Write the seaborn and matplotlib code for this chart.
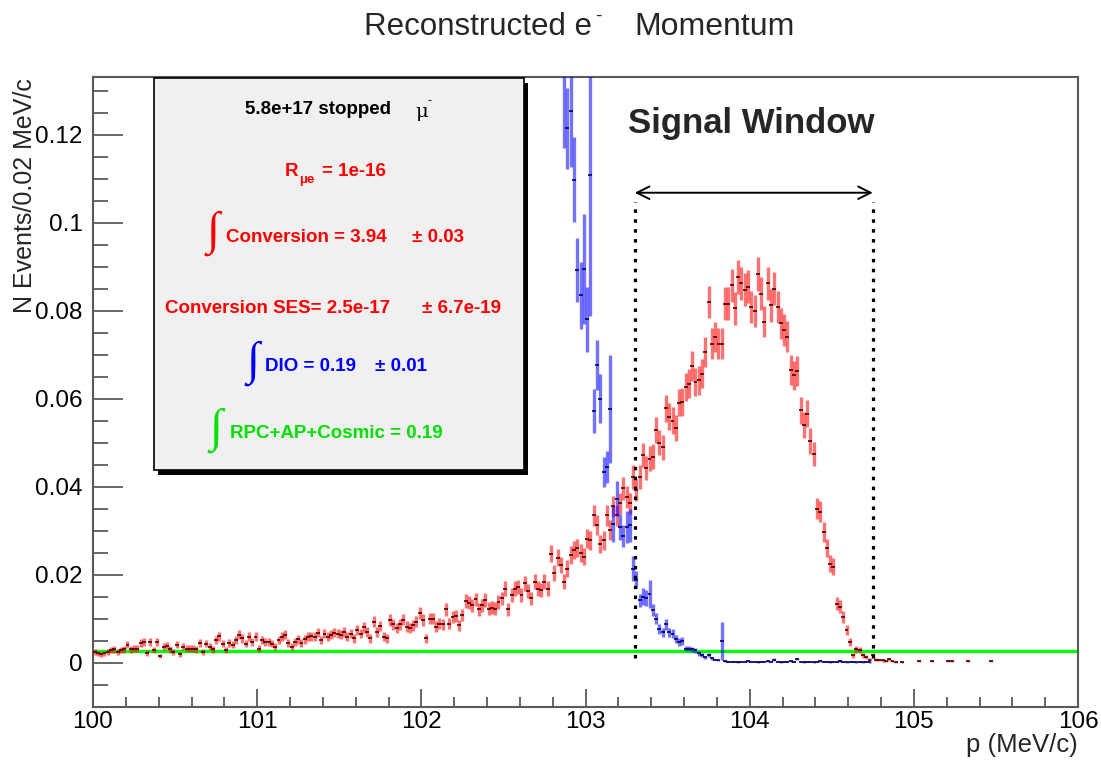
import numpy as np
import matplotlib
matplotlib.use('Agg')
import matplotlib.pyplot as plt
from matplotlib.patches import Rectangle
from matplotlib.ticker import MultipleLocator, FuncFormatter
import seaborn as sns

# ---- data (N events / 0.02 MeV/c) ----
bin_width = 0.02
p_lo, p_hi = 100.0, 106.0

# Conversion electrons, first bin centre 100.01, None = empty bin
conv_start = 100.01
conv_vals = [
    0.0025, 0.0021, 0.0019, 0.0021, 0.0025, 0.0028, 0.0030, 0.0025, 0.0028, 0.0030,
    0.0041, 0.0030, 0.0032, 0.0032, 0.0045, 0.0047, 0.0022, 0.0047, 0.0028, 0.0047,
    0.0015, 0.0036, 0.0038, 0.0030, 0.0025, 0.0041, 0.0019, 0.0036, 0.0032, 0.0032,
    0.0032, 0.0030, 0.0045, 0.0025, 0.0043, 0.0036, 0.0030, 0.0051, 0.0060, 0.0043,
    0.0028, 0.0045, 0.0041, 0.0051, 0.0063, 0.0055, 0.0043, 0.0059, 0.0047, 0.0059,
    0.0032, 0.0051, 0.0047, 0.0047, 0.0043, 0.0036, 0.0051, 0.0059, 0.0063, 0.0045,
    0.0036, 0.0047, 0.0053, 0.0045, 0.0053, 0.0059, 0.0060, 0.0059, 0.0068, 0.0051,
    0.0066, 0.0059, 0.0063, 0.0068, 0.0066, 0.0063, 0.0070, 0.0059, 0.0066, 0.0055,
    0.0074, 0.0066, 0.0080, 0.0070, 0.0055, 0.0093, 0.0070, 0.0083, 0.0059, 0.0055,
    0.0097, 0.0087, 0.0078, 0.0087, 0.0098, 0.0082, 0.0078, 0.0085, 0.0093, 0.0112,
    0.0097, 0.0055, 0.0100, 0.0100, 0.0082, 0.0089, 0.0087, 0.0121, 0.0089, 0.0104,
    0.0106, 0.0085, 0.0108, 0.0140, 0.0136, 0.0131, 0.0144, 0.0121, 0.0131, 0.0142,
    0.0123, 0.0125, 0.0123, 0.0138, 0.0146, 0.0168, 0.0121, 0.0153, 0.0168, 0.0172,
    0.0153, 0.0180, 0.0163, 0.0146, 0.0184, 0.0168, 0.0165, 0.0184, 0.0168, 0.0248,
    0.0204, 0.0239, 0.0222, 0.0184, 0.0214, 0.0245, 0.0256, 0.0260, 0.0250, 0.0241,
    0.0282, 0.0278, 0.0335, 0.0313, 0.0270, 0.0278, 0.0335, 0.0301, 0.0355, 0.0335,
    0.0362, 0.0396, 0.0377, 0.0362, 0.0422, 0.0392, 0.0422, 0.0472, 0.0442, 0.0464,
    0.0468, 0.0529, 0.0500, 0.0490, 0.0578, 0.0559, 0.0550, 0.0534, 0.0591, 0.0593,
    0.0627, 0.0634, 0.0674, 0.0638, 0.0642, 0.0657, 0.0706, 0.0820, 0.0725, 0.0740,
    0.0725, 0.0725, 0.0816, 0.0816, 0.0858, 0.0805, 0.0877, 0.0862, 0.0847, 0.0854,
    0.0809, 0.0800, 0.0884, 0.0839, 0.0775, 0.0862, 0.0812, 0.0850, 0.0809, 0.0771,
    0.0756, 0.0741, 0.0665, 0.0653, 0.0663, 0.0574, 0.0540, 0.0566, 0.0504, 0.0474,
    0.0350, 0.0343, 0.0297, 0.0261, 0.0225, 0.0218, 0.0134, 0.0127, 0.0104, 0.0074,
    0.0048, 0.0017, 0.0030, 0.0028, 0.0017, 0.0012, 0.0007, 0.0017, 0.0007, 0.0006,
    0.0005, 0.0004, 0.0008, 0.0004, 0.0002, None, 0.0002, None, None, None,
    None, 0.0004, None, None, None, 0.0004, None, None, None, None,
    0.0003, 0.0003, None, None, None, None, 0.0003, None, None, None,
    None, None, None, 0.0003,
]
conv_weight = 0.000166   # weight of one event -> error = sqrt(N) * w

# DIO electrons, first visible bin centre 102.87
dio_start = 102.87
dio_vals = [
    0.1380, 0.1214, 0.1254, 0.1098, 0.0892, 0.0835, 0.0894, 0.0780, 0.1108, 0.0572,
    0.0676, 0.0600, 0.0434, 0.0445, 0.0576, 0.0315, 0.0373, 0.0308, 0.0288, 0.0308,
    0.0312, 0.0214, 0.0189, 0.0142, 0.0150, 0.0147, 0.0157, 0.0120, 0.0100, 0.0076,
    0.0069, 0.0087, 0.0069, 0.0066, 0.0053, 0.0047, 0.0049, 0.0032, 0.0032, 0.0030,
    0.0028, 0.0021, 0.0018, 0.0012, 0.0017, 0.0010, 0.0007, 0.0005, 0.0049, 0.0003,
    0.0002, 0.0002, 0.0002, 0.0001, 0.0002, 0.0002, 0.0003, 0.0002, 0.0002, 0.0001,
    0.0002, 0.0002, 0.0003, 0.0002, 0.0007, 0.0002, 0.0001, 0.0002, 0.0002, 0.0003,
    0.0002, 0.0008, 0.0002, 0.0001, 0.0002, 0.0002, 0.0001, 0.0002, 0.0003, 0.0002,
    0.0002, 0.0001, 0.0002, 0.0002, 0.0003, 0.0002, 0.0001, 0.0002, 0.0002, 0.0001,
    0.0002, 0.0001, 0.0002, 0.0001,
]
dio_errs = [
    0.0210, 0.0093, 0.0127, 0.0097, 0.0073, 0.0076, 0.0125, 0.0074, 0.0320, 0.0051,
    0.0057, 0.0055, 0.0034, 0.0036, 0.0123, 0.0040, 0.0040, 0.0030, 0.0025, 0.0036,
    0.0038, 0.0028, 0.0019, 0.0015, 0.0019, 0.0018, 0.0032, 0.0014, 0.0012, 0.0011,
    0.0010, 0.0013, 0.0010, 0.0010, 0.0009, 0.0008, 0.0009, 0.0006, 0.0006, 0.0005,
    0.0005, 0.0006, 0.0004, 0.0003, 0.0004, 0.0003, 0.0002, 0.0002, 0.0043, 0.0002,
    0.0001, 0.0001, 0.0001, 0.0001, 0.0001, 0.0001, 0.0002, 0.0001, 0.0001, 0.0001,
    0.0001, 0.0001, 0.0002, 0.0001, 0.0003, 0.0001, 0.0001, 0.0001, 0.0001, 0.0002,
    0.0001, 0.0003, 0.0001, 0.0001, 0.0001, 0.0001, 0.0001, 0.0001, 0.0002, 0.0001,
    0.0001, 0.0001, 0.0001, 0.0001, 0.0002, 0.0001, 0.0001, 0.0001, 0.0001, 0.0001,
    0.0001, 0.0001, 0.0001, 0.0001,
]

# RPC + AP + Cosmic background, flat
rpc_edges = [p_lo, p_hi]
rpc_level = 0.0027

window_lo, window_hi = 103.3, 104.75
window_top = 0.1068

# ---- style ----
sns.set_style('white')
plt.rcParams['font.family'] = ['Liberation Sans', 'DejaVu Sans']

W, H = 1101, 762
fig = plt.figure(figsize=(W / 100, H / 100), dpi=100)
ax = fig.add_axes([93 / W, 1 - 706.7 / H, 985 / W, 629.7 / H])

def fx(x):
    return x / W

def fy(y):
    return 1 - y / H

# RPC line (under the points)
sns.lineplot(x=rpc_edges, y=[rpc_level, rpc_level], color='#00ff00', lw=2.4, ax=ax, zorder=2)

# conversion histogram
cv = np.array(conv_vals, dtype=float)
cx = conv_start + bin_width * np.arange(len(cv))
ce = np.sqrt(cv * conv_weight)
ax.errorbar(cx, cv, yerr=ce, fmt='none', ecolor=(1, 0, 0, 0.55), elinewidth=2.4, zorder=3)
ax.errorbar(cx, cv, xerr=bin_width * 0.6, fmt='none', ecolor=(0.3, 0, 0), elinewidth=1.2, zorder=3.5)

# DIO histogram
dv = np.array(dio_vals, dtype=float)
dx = dio_start + bin_width * np.arange(len(dv))
ax.errorbar(dx, dv, yerr=dio_errs, fmt='none', ecolor=(0, 0, 1, 0.55), elinewidth=2.4, zorder=4)
ax.errorbar(dx, dv, xerr=bin_width * 0.6, fmt='none', ecolor=(0, 0, 0.4), elinewidth=1.2, zorder=4.5)

# signal window
ax.vlines([window_lo, window_hi], 0.001, window_top - 0.002, colors='black',
          linestyles=[(0, (1.1, 2.0))], lw=2.3, zorder=6)
ax.annotate('', xy=(window_hi, window_top), xytext=(window_lo, window_top),
            arrowprops=dict(arrowstyle='<->,head_length=0.6,head_width=0.3', lw=1.4,
                            color='black', shrinkA=0, shrinkB=0, mutation_scale=15), zorder=6)

# axes
ax.set_xlim(p_lo, p_hi)
ax.set_ylim(-0.01, 0.1331)
ax.set_xlabel('')
ax.set_ylabel('')
ax.xaxis.set_major_locator(MultipleLocator(1))
ax.xaxis.set_minor_locator(MultipleLocator(0.2))
ax.yaxis.set_major_locator(MultipleLocator(0.02))
ax.yaxis.set_minor_locator(MultipleLocator(0.005))
ax.yaxis.set_major_formatter(FuncFormatter(lambda v, _: '0' if abs(v) < 1e-9 else '%g' % round(v, 3)))
ax.xaxis.set_major_formatter(FuncFormatter(lambda v, _: '%d' % round(v)))
gray = '#5a5a5a'
# seaborn's white style hides the ticks, turn them back on (ROOT style: inward)
ax.tick_params(which='both', bottom=True, left=True, top=False, right=False,
               direction='in', color=gray, width=1.3, labelsize=17.5, labelcolor='black')
ax.tick_params(axis='x', which='major', length=13, pad=3)
ax.tick_params(axis='x', which='minor', length=7)
ax.tick_params(axis='y', which='major', length=21.6, pad=7.5)
ax.tick_params(axis='y', which='minor', length=10.8)
for s in ax.spines.values():
    s.set_color(gray)
    s.set_linewidth(1.5)

# title and axis titles
fig.text(fx(364), fy(27), 'Reconstructed e', ha='left', va='center', fontsize=22.5)
fig.text(fx(598), fy(16), '-', ha='center', va='center', fontsize=14)
fig.text(fx(634), fy(27), 'Momentum', ha='left', va='center', fontsize=23)
fig.text(fx(25), fy(78), 'N Events/0.02 MeV/c', rotation=90, ha='center', va='top', fontsize=18)
fig.text(fx(1078), fy(745), 'p (MeV/c)', ha='right', va='center', fontsize=18.5)
fig.text(fx(628), fy(123), 'Signal Window', ha='left', va='center', fontsize=25, fontweight='bold')

# stats box with shadow
bx0, by0, bx1, by1 = 154, 78, 524, 470
fig.add_artist(Rectangle((fx(bx0 + 4), fy(by1 + 5)), (bx1 - bx0) / W, (by1 - by0) / H,
                         transform=fig.transFigure, fc='black', ec='none', zorder=1))
fig.add_artist(Rectangle((fx(bx0), fy(by1)), (bx1 - bx0) / W, (by1 - by0) / H,
                         transform=fig.transFigure, fc='#f0f0f0', ec='black', lw=1.2, zorder=1.5))

red, blue, green = '#ff0000', '#0000ff', '#00e000'
bold = dict(fontsize=13.5, fontweight='bold', va='center', ha='left', zorder=3)
fig.text(fx(245), fy(110), '5.8e+17 stopped', color='black', **bold)
fig.text(fx(415), fy(112), 'μ', color='black', fontsize=14, family='DejaVu Serif', va='center', zorder=3)
fig.text(fx(428), fy(101), '-', color='black', fontsize=9, va='center', zorder=3)

fig.text(fx(285), fy(172), 'R', color=red, **bold)
fig.text(fx(299), fy(180), 'μe', color=red, fontsize=9.5, fontweight='bold', va='center', zorder=3)
fig.text(fx(322), fy(172), '= 1e-16', color=red, **bold)

integral = dict(fontsize=34, family='Liberation Serif', ha='center', va='center', zorder=3)
fig.text(fx(213), fy(233), '∫', color=red, **integral)
fig.text(fx(226), fy(237), 'Conversion = 3.94', color=red, **bold)
fig.text(fx(412), fy(237), '± 0.03', color=red, **bold)

fig.text(fx(165), fy(309), 'Conversion SES= 2.5e-17', color=red, **bold)
fig.text(fx(422), fy(309), '± 6.7e-19', color=red, **bold)

fig.text(fx(253), fy(363), '∫', color=blue, **integral)
fig.text(fx(265), fy(367), 'DIO = 0.19', color=blue, **bold)
fig.text(fx(375), fy(367), '± 0.01', color=blue, **bold)

fig.text(fx(216), fy(430), '∫', color=green, **integral)
fig.text(fx(230), fy(433), 'RPC+AP+Cosmic = 0.19', color=green, **bold)

fig.savefig('out.png', dpi=100)
